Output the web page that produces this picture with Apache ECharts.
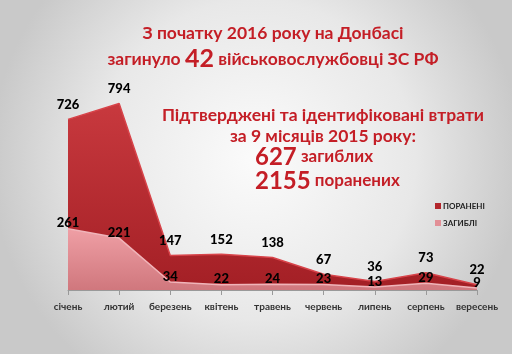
<!DOCTYPE html>
<html>
<head>
<meta charset="utf-8">
<script src="https://cdn.jsdelivr.net/npm/echarts@6/dist/echarts.min.js"></script>
<style>
  html, body { margin: 0; padding: 0; background: #fff; }
  #chart { width: 512px; height: 354px; }
</style>
</head>
<body>
<div id="chart"></div>
<script>
// місяці 2015 року
var months = ['січень', 'лютий', 'березень', 'квітень', 'травень', 'червень', 'липень', 'серпень', 'вересень'];
// поранені
var wounded = [726, 794, 147, 152, 138, 67, 36, 73, 22];
// загиблі
var killed = [261, 221, 34, 22, 24, 23, 13, 29, 9];

var chart = echarts.init(document.getElementById('chart'));
var font = 'Lato, "Open Sans", sans-serif';
var red = '#c41e26';

var option = {
  backgroundColor: {
    type: 'radial', x: 0.5, y: 0.45, r: 0.75,
    colorStops: [{ offset: 0, color: '#fbfbfb' }, { offset: 0.6, color: '#e8e8e8' }, { offset: 1, color: '#c9c9c9' }]
  },
  textStyle: { fontFamily: font },
  title: [{
    text: '{a|З початку 2016 року на Донбасі}\n{a|загинуло }{b|42}{a| військовослужбовці ЗС РФ}',
    left: 268, top: 15, textAlign: 'center',
    textStyle: {
      rich: {
        a: { fontFamily: font, fontWeight: 'bold', fontSize: 17.5, color: red, lineHeight: 26, align: 'center' },
        b: { fontFamily: font, fontWeight: 'bold', fontSize: 25, color: red, lineHeight: 26 }
      }
    }
  }, {
    text: '{a|Підтверджені та ідентифіковані втрати}\n{a|за 9 місяців 2015 року:}',
    left: 318, top: 100, textAlign: 'center',
    textStyle: {
      rich: {
        a: { fontFamily: font, fontWeight: 'bold', fontSize: 17.5, color: red, lineHeight: 21, align: 'center' }
      }
    }
  }, {
    text: '{b|627}{a| загиблих}\n{b|2155}{a| поранених}',
    left: 250, top: 140,
    textStyle: {
      rich: {
        a: { fontFamily: font, fontWeight: 'bold', fontSize: 17, color: red, lineHeight: 24 },
        b: { fontFamily: font, fontWeight: 'bold', fontSize: 24, color: red, lineHeight: 24 }
      }
    }
  }],
  legend: {
    orient: 'vertical', left: 430, top: 197,
    itemWidth: 6, itemHeight: 6, itemGap: 9,
    data: ['ПОРАНЕНІ', 'ЗАГИБЛІ'],
    icon: 'rect',
    textStyle: { fontFamily: font, fontWeight: 'bold', fontSize: 8, color: '#222', padding: [0, 0, 0, -3] }
  },
  grid: { left: 68, right: 35, top: 102, bottom: 64 },
  xAxis: {
    type: 'category', data: months, boundaryGap: false,
    axisLine: { lineStyle: { color: '#999' } },
    axisTick: { show: true, alignWithLabel: true, lineStyle: { color: '#999' } },
    axisLabel: { fontFamily: font, fontWeight: 'bold', fontSize: 10, color: '#333', margin: 12, interval: 0 }
  },
  yAxis: {
    type: 'value', min: 0, max: 800,
    show: false, splitLine: { show: false }
  },
  series: [{
    name: 'ПОРАНЕНІ', type: 'line', data: wounded,
    symbol: 'circle', symbolSize: 0.1, showSymbol: true,
    itemStyle: { color: '#b3262c' },
    lineStyle: { width: 1.5, color: '#d8444a' },
    areaStyle: {
      opacity: 1,
      color: {
        type: 'linear', x: 0, y: 0, x2: 0, y2: 1,
        colorStops: [{ offset: 0, color: '#c8393e' }, { offset: 1, color: '#a31f25' }]
      }
    },
    label: { show: true, position: 'top', distance: 8, fontFamily: font, fontWeight: 900, fontSize: 13, color: '#000' },
    z: 2
  }, {
    name: 'ЗАГИБЛІ', type: 'line', data: killed,
    symbol: 'circle', symbolSize: 0.1, showSymbol: true,
    itemStyle: { color: '#e28f96' },
    lineStyle: { width: 1.5, color: '#f0b4b9' },
    areaStyle: {
      opacity: 1,
      color: {
        type: 'linear', x: 0, y: 0, x2: 0, y2: 1,
        colorStops: [{ offset: 0, color: '#ef9fa5' }, { offset: 1, color: '#d0777d' }]
      }
    },
    label: { show: true, position: 'top', distance: -1, fontFamily: font, fontWeight: 900, fontSize: 13, color: '#000' },
    z: 3
  }]
};

chart.setOption(option);
</script>
</body>
</html>
